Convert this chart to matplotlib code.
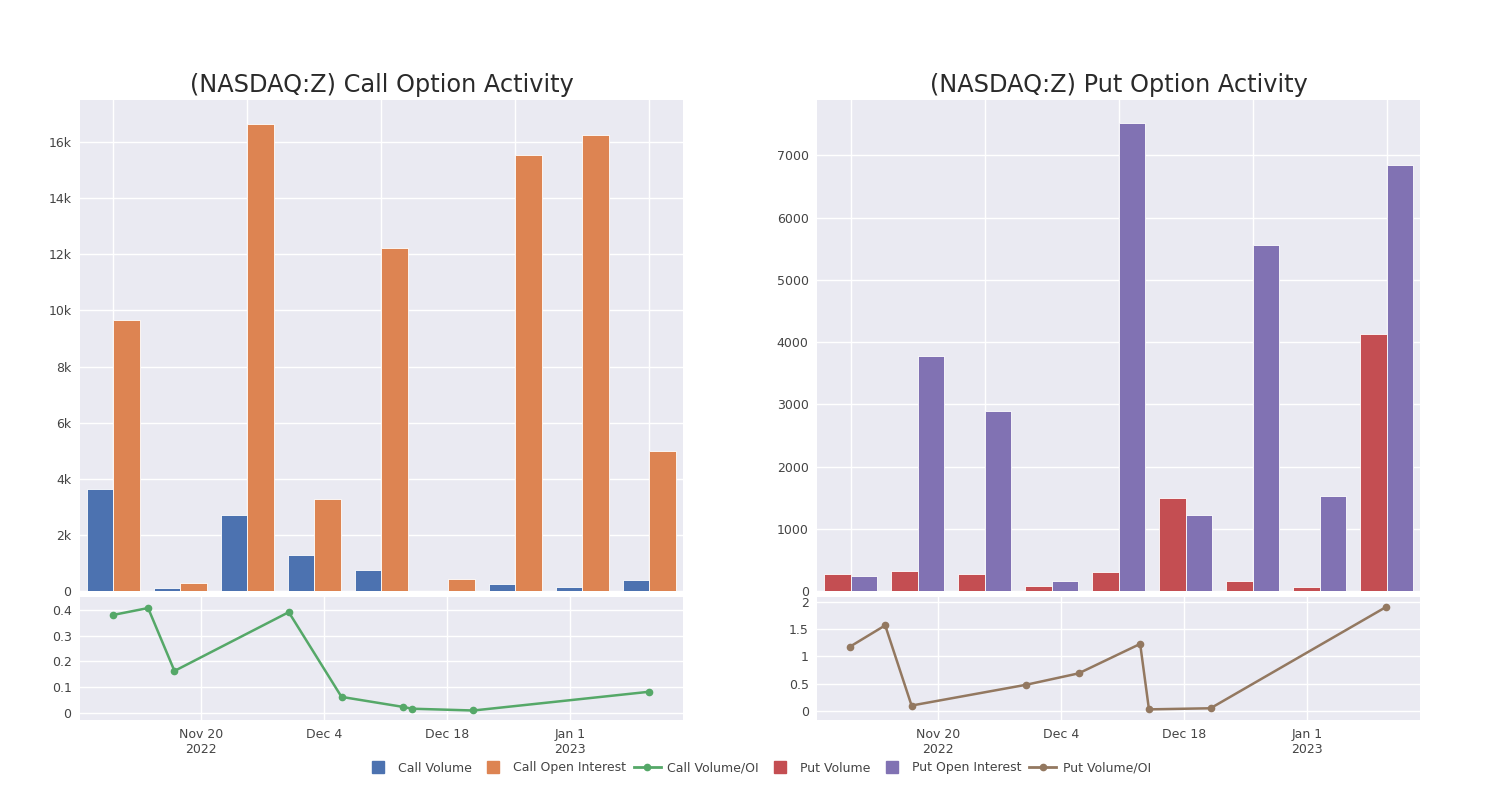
import numpy as np
import pandas as pd
import matplotlib
matplotlib.use("Agg")
import matplotlib.pyplot as plt
from matplotlib.lines import Line2D

# data
dates = pd.to_datetime(["2022-11-10", "2022-11-14", "2022-11-17", "2022-11-30", "2022-12-06",
                        "2022-12-13", "2022-12-14", "2022-12-21", "2023-01-10"])
call_volume = [3650, 107, 2720, 1290, 750, 15, 250, 143, 390]
call_oi = [9660, 286, 16640, 3290, 12240, 430, 15530, 16250, 4975]
call_ratio = [0.381, 0.408, 0.163, 0.392, 0.062, 0.023, 0.016, 0.009, 0.082]
put_volume = [274, 322, 274, 80, 306, 1500, 161, 64, 4129]
put_oi = [242, 3774, 2887, 161, 7516, 1226, 5565, 1532, 6855]
put_ratio = [1.18, 1.57, 0.10, 0.48, 0.69, 1.23, 0.03, 0.05, 1.91]

BG = "#EAEAF2"
TXT = "#444444"
c_blue, c_orange, c_green = "#4C72B0", "#DD8452", "#55A868"
c_red, c_purple, c_brown = "#C44E52", "#8172B3", "#937860"

fig = plt.figure(figsize=(15, 8), dpi=100)


def style(ax):
    ax.set_facecolor(BG)
    for s in ax.spines.values():
        s.set_visible(False)
    ax.grid(True, color="white", linewidth=1.0)
    ax.set_axisbelow(True)
    ax.tick_params(length=0, labelsize=9, colors=TXT, pad=6)


def panel(x0, title, vol, oi, ratio, cv, co, cr, top_lim, top_ticks, top_labels,
          bot_lim, bot_ticks, bot_labels):
    w = 0.402
    ax = fig.add_axes([x0, 0.26125, w, 0.61375])
    style(ax)
    pos = np.arange(len(vol))
    ax.bar(pos - 0.2, vol, width=0.4, color=cv, edgecolor="white", linewidth=0.6)
    ax.bar(pos + 0.2, oi, width=0.4, color=co, edgecolor="white", linewidth=0.6)
    ax.set_xlim(-0.5, len(vol) - 0.5)
    ax.set_xticks(pos[::2])
    ax.set_xticklabels([])
    ax.set_ylim(*top_lim)
    ax.set_yticks(top_ticks)
    ax.set_yticklabels(top_labels)
    ax.set_title(title, fontsize=17.3, color="#2a2a2a", pad=6)

    bx = fig.add_axes([x0, 0.1, w, 0.15375])
    style(bx)
    bx.plot(dates, ratio, color=cr, linewidth=1.8, marker="o", markersize=4.5)
    bx.set_xlim(pd.Timestamp("2022-11-06 06:00"), pd.Timestamp("2023-01-13 20:00"))
    ticks = pd.to_datetime(["2022-11-20", "2022-12-04", "2022-12-18", "2023-01-01"])
    bx.set_xticks(ticks)
    bx.set_xticklabels(["Nov 20\n2022", "Dec 4", "Dec 18", "Jan 1\n2023"])
    bx.set_ylim(*bot_lim)
    bx.set_yticks(bot_ticks)
    bx.set_yticklabels(bot_labels)


panel(0.0533, "(NASDAQ:Z) Call Option Activity", call_volume, call_oi, call_ratio,
      c_blue, c_orange, c_green, (0, 17500), range(0, 16001, 2000),
      ["0", "2k", "4k", "6k", "8k", "10k", "12k", "14k", "16k"],
      (-0.028, 0.451), [0, 0.1, 0.2, 0.3, 0.4], ["0", "0.1", "0.2", "0.3", "0.4"])
panel(0.5447, "(NASDAQ:Z) Put Option Activity", put_volume, put_oi, put_ratio,
      c_red, c_purple, c_brown, (0, 7892), range(0, 7001, 1000),
      [str(v) for v in range(0, 7001, 1000)],
      (-0.165, 2.09), [0, 0.5, 1, 1.5, 2], ["0", "0.5", "1", "1.5", "2"])

handles = [
    Line2D([], [], linestyle="none", marker="s", markersize=9, color=c_blue),
    Line2D([], [], linestyle="none", marker="s", markersize=9, color=c_orange),
    Line2D([], [], color=c_green, linewidth=2, marker="o", markersize=4.5),
    Line2D([], [], linestyle="none", marker="s", markersize=9, color=c_red),
    Line2D([], [], linestyle="none", marker="s", markersize=9, color=c_purple),
    Line2D([], [], color=c_brown, linewidth=2, marker="o", markersize=4.5),
]
labels = ["Call Volume", "Call Open Interest", "Call Volume/OI",
          "Put Volume", "Put Open Interest", "Put Volume/OI"]
leg = fig.legend(handles, labels, loc="center", bbox_to_anchor=(0.505, 0.04), ncol=6,
                 frameon=False, fontsize=9, handlelength=2.2, columnspacing=0.6,
                 handletextpad=0.5)
for t in leg.get_texts():
    t.set_color(TXT)

fig.savefig("out.png", dpi=100)
